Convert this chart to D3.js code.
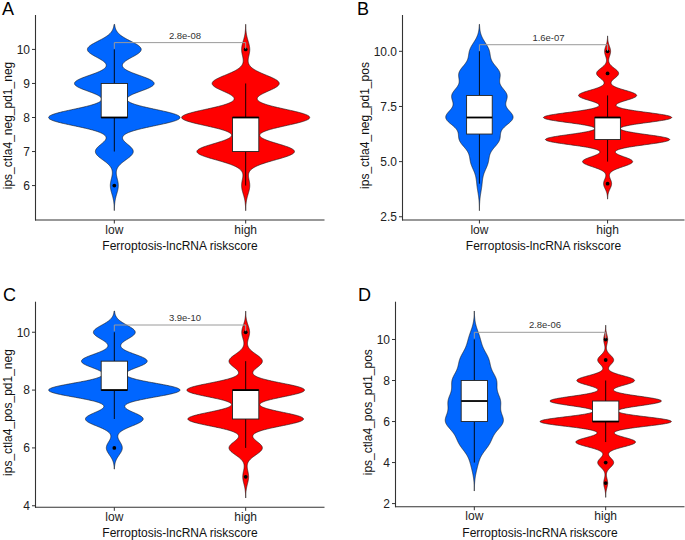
<!DOCTYPE html>
<html>
<head>
<meta charset="utf-8">
<script src="https://cdn.jsdelivr.net/npm/d3@7"></script>
<style>
  body { margin: 0; background: #fff; }
  svg { display: block; }
  text { font-family: "Liberation Sans", Arial, Helvetica, sans-serif; }
</style>
</head>
<body>
<svg id="chart" width="685" height="540"></svg>
<script>
// ---------------- data ----------------
const categories = ["low", "high"];
const scoreValues = [3, 4, 5, 6, 7, 8, 9, 10];

// number of samples at each score (aligned with scoreValues)
const countsA_low  = [0, 0, 0, 4, 19, 66, 40, 27];
const countsA_high = [0, 0, 0, 4, 48, 63, 33, 4];
const countsB_low  = [0, 4, 14, 32, 55, 44, 33, 16];
const countsB_high = [0, 4, 25, 62, 64, 29, 11, 3];
const countsC_low  = [0, 0, 0, 8, 29, 66, 33, 21];
const countsC_high = [0, 0, 3, 17, 59, 60, 17, 4];
const countsD_low  = [0, 6, 27, 51, 44, 38, 25, 10];
const countsD_high = [2, 8, 30, 66, 56, 29, 8, 2];

const yTicksA = [6, 7, 8, 9, 10];
const yTicksB = [2.5, 5.0, 7.5, 10.0];
const yTicksC = [4, 6, 8, 10];
const yTicksD = [2, 4, 6, 8, 10];

const panelLetters = ["A", "B", "C", "D"];
const yTitles = ["ips_ctla4_neg_pd1_neg", "ips_ctla4_neg_pd1_pos",
                 "ips_ctla4_pos_pd1_neg", "ips_ctla4_pos_pd1_pos"];
const pValueLabels = ["2.8e-08", "1.6e-07", "3.9e-10", "2.8e-06"];
const xTitle = "Ferroptosis-lncRNA riskscore";
const groupColors = ["#0066FF", "#FF0000"];

// ---------------- layout ----------------
const frames = [
  { left: 35.5,  right: 324.5, top: 15,    bottom: 220,   letterX: 2,   letterY: 15,    tickFmt: d3.format("d") },
  { left: 402.5, right: 684.5, top: 15,    bottom: 220,   letterX: 357, letterY: 15,    tickFmt: d3.format(".1f") },
  { left: 35.5,  right: 324.5, top: 301.7, bottom: 507.3, letterX: 3,   letterY: 300.7, tickFmt: d3.format("d") },
  { left: 395.5, right: 684.5, top: 301.7, bottom: 506.7, letterX: 358, letterY: 300.7, tickFmt: d3.format("d") }
];

const panels = [
  { groups: [countsA_low, countsA_high], ticks: yTicksA },
  { groups: [countsB_low, countsB_high], ticks: yTicksB },
  { groups: [countsC_low, countsC_high], ticks: yTicksC },
  { groups: [countsD_low, countsD_high], ticks: yTicksD }
].map((p, i) => Object.assign(p, frames[i], {
  letter: panelLetters[i], yTitle: yTitles[i], pLabel: pValueLabels[i]
}));

// ---------------- helpers ----------------
function expand(counts) {
  const arr = [];
  counts.forEach((c, i) => { for (let j = 0; j < c; j++) arr.push(scoreValues[i]); });
  return arr.sort(d3.ascending);
}
function bwNrd0(x) {
  const sd = d3.deviation(x);
  const iqr = d3.quantileSorted(x, 0.75) - d3.quantileSorted(x, 0.25);
  let lo = Math.min(sd, iqr / 1.34);
  if (!lo) lo = sd || 1;
  return 0.9 * lo * Math.pow(x.length, -0.2);
}
function kde(counts, x, bw) {
  const N = x.length;
  const lo = d3.min(x) - 3 * bw, hi = d3.max(x) + 3 * bw;
  const n = 512, out = [];
  const norm = 1 / (N * bw * Math.sqrt(2 * Math.PI));
  for (let i = 0; i < n; i++) {
    const y = lo + (hi - lo) * i / (n - 1);
    let s = 0;
    counts.forEach((c, k) => {
      if (c) { const z = (y - scoreValues[k]) / bw; s += c * Math.exp(-0.5 * z * z); }
    });
    out.push({ y, d: s * norm });
  }
  return out;
}
function boxStats(x) {
  const q1 = d3.quantileSorted(x, 0.25), med = d3.quantileSorted(x, 0.5), q3 = d3.quantileSorted(x, 0.75);
  const iqr = q3 - q1;
  const lw = d3.min(x.filter(v => v >= q1 - 1.5 * iqr));
  const uw = d3.max(x.filter(v => v <= q3 + 1.5 * iqr));
  const outliers = Array.from(new Set(x.filter(v => v < q1 - 1.5 * iqr || v > q3 + 1.5 * iqr)));
  return { q1, med, q3, lw, uw, outliers };
}

// ---------------- draw ----------------
const svg = d3.select("#chart");

panels.forEach(p => {
  const g = svg.append("g");
  const groups = p.groups.map((counts, gi) => {
    const x = expand(counts);
    const bw = bwNrd0(x);
    return { counts, x, bw, dens: kde(counts, x, bw), box: boxStats(x), cat: categories[gi], color: groupColors[gi] };
  });

  // y range = extent of violins, expanded by 5%
  const yMin = d3.min(groups, gr => gr.dens[0].y);
  const yMax = d3.max(groups, gr => gr.dens[gr.dens.length - 1].y);
  const pad = 0.05 * (yMax - yMin);
  const y = d3.scaleLinear().domain([yMin - pad, yMax + pad]).range([p.bottom, p.top]);
  const x = d3.scalePoint().domain(categories).range([p.left, p.right]).padding(0.6);
  const unit = x.step();

  const maxD = d3.max(groups, gr => d3.max(gr.dens, d => d.d));

  // violins
  groups.forEach(gr => {
    const cx = x(gr.cat);
    const hw = d => 0.5 * unit * d.d / maxD;
    const pts = gr.dens.map(d => [cx + hw(d), y(d.y)])
      .concat(gr.dens.slice().reverse().map(d => [cx - hw(d), y(d.y)]));
    g.append("path")
      .attr("d", d3.line()(pts) + "Z")
      .attr("fill", gr.color)
      .attr("stroke", "#111")
      .attr("stroke-width", 0.6);
  });

  // boxplots
  groups.forEach(gr => {
    const cx = x(gr.cat), b = gr.box, bwid = 0.2 * unit;
    g.append("line").attr("x1", cx).attr("x2", cx).attr("y1", y(b.uw)).attr("y2", y(b.q3))
      .attr("stroke", "#000").attr("stroke-width", 0.9);
    g.append("line").attr("x1", cx).attr("x2", cx).attr("y1", y(b.q1)).attr("y2", y(b.lw))
      .attr("stroke", "#000").attr("stroke-width", 0.9);
    g.append("rect").attr("x", cx - bwid / 2).attr("width", bwid)
      .attr("y", y(b.q3)).attr("height", Math.max(0, y(b.q1) - y(b.q3)))
      .attr("fill", "#fff").attr("stroke", "#222").attr("stroke-width", 0.9);
    g.append("line").attr("x1", cx - bwid / 2).attr("x2", cx + bwid / 2)
      .attr("y1", y(b.med)).attr("y2", y(b.med))
      .attr("stroke", "#000").attr("stroke-width", 1.8);
    b.outliers.forEach(o => {
      g.append("circle").attr("cx", cx).attr("cy", y(o)).attr("r", 1.9).attr("fill", "#000");
    });
  });

  // significance bracket
  const allX = groups[0].x.concat(groups[1].x);
  const dMin = d3.min(allX), dMax = d3.max(allX);
  const yPos = dMax + 0.05 * (dMax - dMin);
  const tip = 0.03 * (y.domain()[1] - y.domain()[0]);
  const x1 = x(categories[0]), x2 = x(categories[1]);
  g.append("path")
    .attr("d", d3.line()([[x1, y(yPos - tip)], [x1, y(yPos)], [x2, y(yPos)], [x2, y(yPos - tip)]]))
    .attr("fill", "none").attr("stroke", "#9a9a9a").attr("stroke-width", 1);
  g.append("text")
    .attr("x", (x1 + x2) / 2 + 5).attr("y", y(yPos) - 4)
    .attr("text-anchor", "middle").attr("font-size", 9.5).attr("fill", "#333")
    .text(p.pLabel);

  // axes
  const axisColor = "#333";
  g.append("line").attr("x1", p.left).attr("x2", p.left).attr("y1", p.top).attr("y2", p.bottom + 0.5)
    .attr("stroke", axisColor).attr("stroke-width", 1.1);
  g.append("line").attr("x1", p.left - 0.5).attr("x2", p.right).attr("y1", p.bottom).attr("y2", p.bottom)
    .attr("stroke", axisColor).attr("stroke-width", 1.1);

  let minLabelLeft = Infinity;
  p.ticks.forEach(t => {
    g.append("line").attr("x1", p.left - 3.5).attr("x2", p.left).attr("y1", y(t)).attr("y2", y(t))
      .attr("stroke", axisColor).attr("stroke-width", 1);
    const tx = g.append("text").attr("x", p.left - 5.5).attr("y", y(t)).attr("dy", "0.36em")
      .attr("text-anchor", "end").attr("font-size", 12).attr("fill", "#222")
      .text(p.tickFmt(t));
    const w = tx.node().getComputedTextLength();
    minLabelLeft = Math.min(minLabelLeft, p.left - 5.5 - w);
  });
  categories.forEach(c => {
    g.append("line").attr("x1", x(c)).attr("x2", x(c)).attr("y1", p.bottom).attr("y2", p.bottom + 3.5)
      .attr("stroke", axisColor).attr("stroke-width", 1);
    g.append("text").attr("x", x(c)).attr("y", p.bottom + 13.5)
      .attr("text-anchor", "middle").attr("font-size", 12).attr("fill", "#222").text(c);
  });

  // titles
  g.append("text").attr("x", (p.left + p.right) / 2).attr("y", p.bottom + 30)
    .attr("text-anchor", "middle").attr("font-size", 12).attr("fill", "#111").text(xTitle);
  const ytx = minLabelLeft - 5, yty = (p.top + p.bottom) / 2 + 8;
  g.append("text").attr("transform", `translate(${ytx},${yty}) rotate(-90)`)
    .attr("text-anchor", "middle").attr("font-size", 12).attr("fill", "#111").text(p.yTitle);

  // panel letter
  g.append("text").attr("x", p.letterX).attr("y", p.letterY)
    .attr("font-size", 18).attr("fill", "#000").text(p.letter);
});
</script>
</body>
</html>
